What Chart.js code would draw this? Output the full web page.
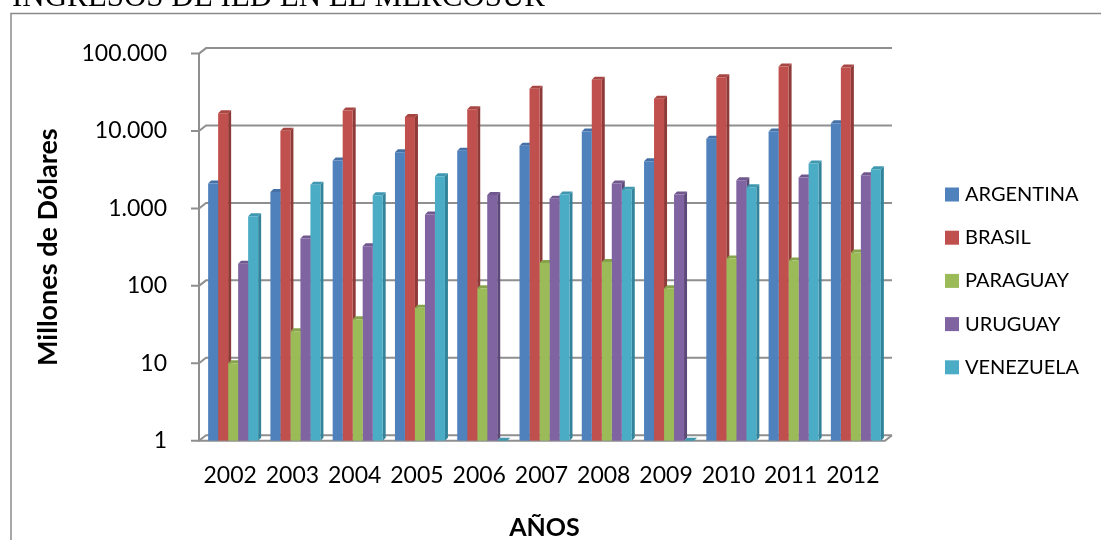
<!DOCTYPE html>
<html><head><meta charset="utf-8">
<script src="https://cdn.jsdelivr.net/npm/chart.js@4.4.1/dist/chart.umd.min.js"></script>
<style>html,body{margin:0;padding:0;background:#fff;overflow:hidden}</style>
</head><body>
<canvas id="c" width="1101" height="540"></canvas>
<script>
const categories = ['2002','2003','2004','2005','2006','2007','2008','2009','2010','2011','2012'];
const argentina = [2100, 1630, 4170, 5300, 5570, 6460, 9890, 4060, 7950, 9880, 12600];
const brasil    = [17000, 10100, 18400, 15200, 19100, 35100, 45800, 26100, 49500, 67900, 66000];
const paraguay  = [10, 26, 37, 52, 93, 198, 204, 93, 226, 213, 270];
const uruguay   = [193, 410, 325, 835, 1490, 1330, 2100, 1510, 2310, 2510, 2680];
const venezuela = [790, 2030, 1480, 2600, null, 1510, 1740, null, 1875, 3820, 3200];
const seriesNames = ['ARGENTINA','BRASIL','PARAGUAY','URUGUAY','VENEZUELA'];
const yTicks = [1, 10, 100, 1000, 10000, 100000];
const chartTitle = 'INGRESOS DE IED EN EL MERCOSUR';
const yTitle = 'Millones de Dólares';
const xTitle = 'AÑOS';

const fronts = ['#4F81BD','#C0504D','#9BBB59','#8064A2','#4BACC6'];
const sides  = ['#385E8C','#8E3A38','#718A40','#5D4978','#33849A'];
const tops   = ['#4571A6','#A84643','#87A44D','#70578E','#3F98B0'];
const seriesValues = [argentina, brasil, paraguay, uruguay, venezuela];

function fmt(v){ return String(v).replace(/\B(?=(\d{3})+(?!\d))/g, '.'); }

const DX = 3, DY = -3;      // bar depth
const WX = 7, WY = -5.5;    // wall depth

const decor = {
  id: 'decor',
  beforeDraw(chart){
    const ctx = chart.ctx;
    ctx.save();
    ctx.fillStyle = '#fff';
    ctx.fillRect(0,0,chart.width,chart.height);
    ctx.strokeStyle = '#8a8a8a';
    ctx.lineWidth = 1.5;
    ctx.beginPath();
    ctx.moveTo(11, 540); ctx.lineTo(11, 13.5); ctx.lineTo(1101, 13.5);
    ctx.stroke();
    ctx.fillStyle = '#000';
    ctx.font = '31px "Liberation Serif"';
    ctx.textBaseline = 'alphabetic';
    ctx.textAlign = 'left';
    ctx.fillText(chartTitle, 12, 5.5);
    ctx.restore();
  },
  beforeDatasetsDraw(chart){
    const ctx = chart.ctx, ca = chart.chartArea, ys = chart.scales.y;
    const L = ca.left - 3, R = ca.right - 2;
    ctx.save();
    ctx.strokeStyle = '#8f8f8f';
    ctx.lineWidth = 2;
    ctx.lineJoin = 'round';
    yTicks.forEach(v => {
      const yf = ys.getPixelForValue(v);
      ctx.beginPath();
      ctx.moveTo(L - 8, yf); ctx.lineTo(L, yf); ctx.lineTo(L + WX, yf + WY); ctx.lineTo(R + WX, yf + WY);
      ctx.stroke();
    });
    const yTop = ys.getPixelForValue(yTicks[yTicks.length-1]);
    const yBot = ys.getPixelForValue(yTicks[0]);
    ctx.beginPath();
    ctx.moveTo(L, yTop); ctx.lineTo(L, yBot); ctx.lineTo(R, yBot); ctx.lineTo(R + WX, yBot + WY);
    ctx.stroke();
    // 3D faces of bars
    chart.data.datasets.forEach((ds, di) => {
      const meta = chart.getDatasetMeta(di);
      meta.data.forEach(el => {
        const {x, y, base, width} = el.getProps(['x','y','base','width'], true);
        if (!isFinite(y) || !isFinite(base)) return;
        const l = x - width/2, r = x + width/2;
        ctx.fillStyle = sides[di];
        ctx.beginPath();
        ctx.moveTo(r, y); ctx.lineTo(r + DX, y + DY); ctx.lineTo(r + DX, base + DY); ctx.lineTo(r, base);
        ctx.closePath(); ctx.fill();
        ctx.fillStyle = tops[di];
        ctx.beginPath();
        ctx.moveTo(l, y); ctx.lineTo(l + DX, y + DY); ctx.lineTo(r + DX, y + DY); ctx.lineTo(r, y);
        ctx.closePath(); ctx.fill();
      });
    });
    ctx.restore();
  },
  afterDraw(chart){
    const ctx = chart.ctx;
    ctx.save();
    ctx.font = '20px Lato';
    ctx.textBaseline = 'middle';
    ctx.textAlign = 'left';
    chart.data.datasets.forEach((ds, i) => {
      const yc = 194.5 + i * 43.2;
      ctx.fillStyle = ds.backgroundColor;
      ctx.fillRect(945, yc - 7, 14, 14);
      ctx.fillStyle = '#000';
      ctx.fillText(ds.label, 965, yc);
    });
    ctx.restore();
  }
};

new Chart(document.getElementById('c'), {
  type: 'bar',
  data: {
    labels: categories,
    datasets: seriesNames.map((n, i) => ({
      label: n,
      data: seriesValues[i],
      backgroundColor: fronts[i],
      borderWidth: 0,
      barPercentage: 1,
      categoryPercentage: 0.803
    }))
  },
  options: {
    responsive: false,
    animation: false,
    devicePixelRatio: 1,
    layout: { padding: { left: 32, right: 214, top: 53.6, bottom: 0 } },
    plugins: { legend: { display: false }, tooltip: { enabled: false }, title: { display: false } },
    scales: {
      x: {
        grid: { display: false, drawTicks: false },
        border: { display: false },
        ticks: { padding: 21, labelOffset: -3, color: '#000', font: { family: 'Lato', size: 23 }, maxRotation: 0, autoSkip: false },
        title: { display: true, text: xTitle, color: '#000', font: { family: 'Lato', size: 25, weight: 'bold', lineHeight: 1 }, padding: 0 },
        afterFit: s => { s.height = 99.3; }
      },
      y: {
        type: 'logarithmic',
        min: 1, max: 100000,
        afterBuildTicks: s => { s.ticks = yTicks.map(v => ({ value: v })); },
        afterFit: s => { s.width = 170; },
        grid: { display: false, drawTicks: false },
        border: { display: false },
        ticks: { padding: 35, color: '#000', font: { family: 'Lato', size: 23 }, callback: v => fmt(v) },
        title: { display: true, text: yTitle, color: '#000', font: { family: 'Lato', size: 27, weight: 'bold' }, padding: 0 }
      }
    }
  },
  plugins: [decor]
});
</script>
</body></html>
